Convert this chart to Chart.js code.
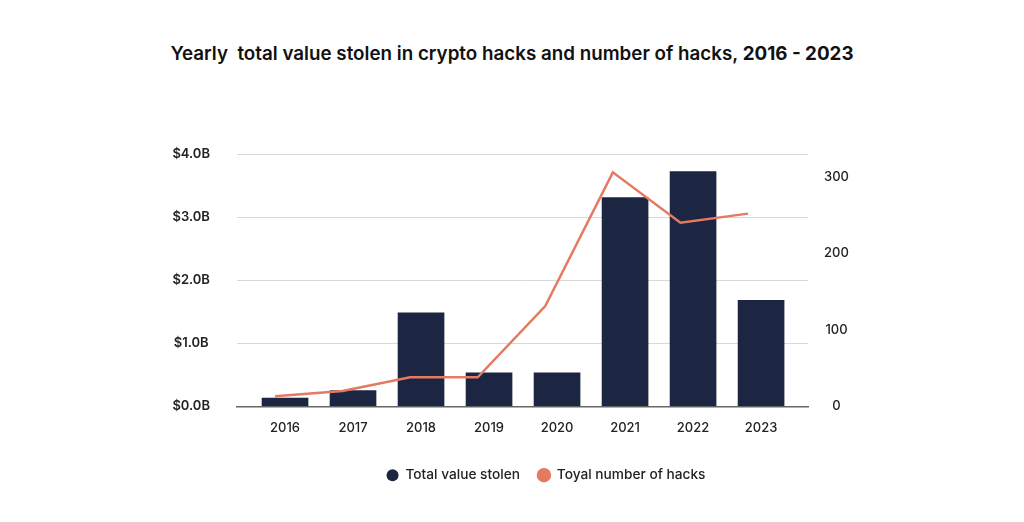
<!DOCTYPE html>
<html>
<head>
<meta charset="utf-8">
<script src="https://cdn.jsdelivr.net/npm/chart.js@4.4.1/dist/chart.umd.min.js"></script>
<style>
  body { margin: 0; background: #fff; }
  #wrap { position: relative; width: 1024px; height: 522px; }
  #title {
    position: absolute; left: 0; top: 42px; width: 1024px; text-align: center;
    font-family: Inter, sans-serif; font-size: 18.8px; font-weight: 600; color: #111;
    white-space: pre;
  }
  #title b { font-weight: 700; }
  canvas { position: absolute; left: 0; top: 0; }
</style>
</head>
<body>
<div id="wrap">
  <div id="title">Yearly  total value stolen in crypto hacks and number of hacks, <b>2016 - 2023</b></div>
  <canvas id="hackChart" width="1024" height="522"></canvas>
</div>
<script>
// Chart data.
const years = [2016, 2017, 2018, 2019, 2020, 2021, 2022, 2023];
const valueStolen = [0.13, 0.25, 1.48, 0.53, 0.53, 3.31, 3.72, 1.68]; // billions USD
const hackCount = [13, 20, 38, 38, 131, 306, 240, 252];
const valueTicks = [0, 1, 2, 3, 4];
const countTicks = [0, 100, 200, 300];

const navy = '#1c2541';
const salmon = '#e57a62';

Chart.defaults.font.family = 'Inter, sans-serif';
Chart.defaults.font.size = 13;
Chart.defaults.color = '#222';

const ctx = document.getElementById('hackChart').getContext('2d');
new Chart(ctx, {
    type: 'bar',
    data: {
        datasets: [{
            type: 'line',
            label: 'Toyal number of hacks',
            data: years.map((y, i) => ({x: y, y: hackCount[i]})),
            xAxisID: 'x2',
            yAxisID: 'yCount',
            borderColor: salmon,
            backgroundColor: salmon,
            borderWidth: 2.5,
            pointRadius: 0,
            pointStyle: 'circle',
            tension: 0,
            order: 0
        }, {
            type: 'bar',
            label: 'Total value stolen',
            data: years.map((y, i) => ({x: y, y: valueStolen[i]})),
            xAxisID: 'x',
            yAxisID: 'yValue',
            backgroundColor: navy,
            barThickness: 46,
            grouped: false,
            pointStyle: 'circle',
            order: 1
        }]
    },
    options: {
        responsive: false,
        animation: false,
        // uneven left/right padding keeps the legend centred where the reference has it
        layout: {padding: {left: 168, right: 100, top: 154, bottom: 30}},
        plugins: {
            title: {display: false},
            tooltip: {enabled: false},
            legend: {
                position: 'bottom',
                reverse: true,
                labels: {
                    usePointStyle: true,
                    pointStyleWidth: 12,
                    boxHeight: 8.5,
                    padding: 18,
                    color: '#222',
                    font: {size: 13.7, weight: 500}
                }
            }
        },
        scales: {
            x: {
                type: 'linear',
                offset: false,
                min: 2015.294,
                max: 2023.69,
                afterBuildTicks: s => { s.ticks = years.map(v => ({value: v})); },
                afterFit: s => { s.height = 44; },
                grid: {display: false, drawTicks: false, offset: false},
                border: {display: true, color: '#666', width: 1.5},
                ticks: {
                    padding: 14,
                    callback: v => String(v),
                    font: {size: 13, weight: 500},
                    color: '#222'
                }
            },
            x2: {
                type: 'linear',
                display: false,
                offset: false,
                grid: {offset: false},
                min: 2015.438,
                max: 2023.888
            },
            yValue: {
                position: 'left',
                min: 0,
                max: 4,
                afterBuildTicks: s => { s.ticks = valueTicks.map(v => ({value: v})); },
                afterFit: s => { s.width = 69; },
                border: {display: false},
                grid: {color: '#d8d8d8', lineWidth: 1, drawTicks: false},
                ticks: {
                    padding: 27,
                    crossAlign: 'center',
                    callback: v => '$' + v.toFixed(1) + 'B',
                    font: {size: 13, weight: 600},
                    color: '#222'
                }
            },
            yCount: {
                position: 'right',
                min: 0,
                max: 330,
                afterBuildTicks: s => { s.ticks = countTicks.map(v => ({value: v})); },
                afterFit: s => { s.width = 116; },
                border: {display: false},
                grid: {display: false, drawTicks: false},
                ticks: {
                    padding: 16,
                    crossAlign: 'center',
                    font: {size: 13, weight: 500},
                    color: '#222'
                }
            }
        }
    }
});
</script>
</body>
</html>
